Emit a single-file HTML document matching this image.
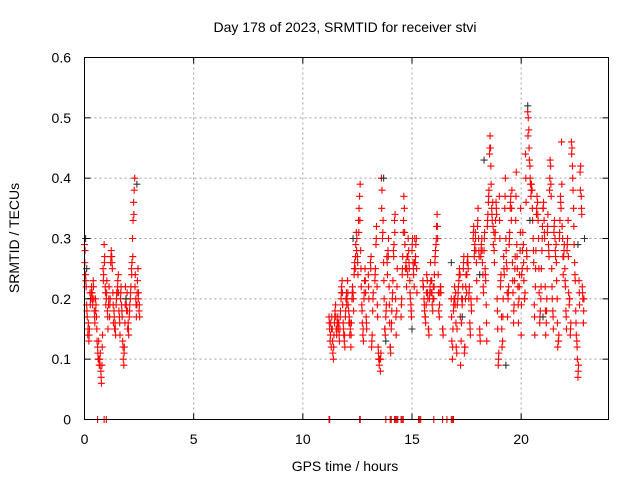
<!DOCTYPE html>
<html><head><meta charset="utf-8"><style>
html,body{margin:0;padding:0;background:#fff;}
svg{display:block;font-family:"Liberation Sans",sans-serif;}
</style></head><body>
<svg id="chart" width="640" height="480" viewBox="0 0 640 480" xmlns="http://www.w3.org/2000/svg">
<rect x="0" y="0" width="640" height="480" fill="#fff"/>
<text x="345" y="32" font-size="14" text-anchor="middle" fill="#000">Day 178 of 2023, SRMTID for receiver stvi</text>
<text x="345" y="471" font-size="14" text-anchor="middle" fill="#000">GPS time / hours</text>
<text x="19" y="238" font-size="14" text-anchor="middle" fill="#000" transform="rotate(-90 19 238)">SRMTID / TECUs</text>
<g id="grid"></g>
<g id="marks"></g>
<g id="axes"></g>
</svg>
<script>
const xTicks=[0,5,10,15,20];
const yTicks=[0,0.1,0.2,0.3,0.4,0.5,0.6];
const yTickLabels=["0","0.1","0.2","0.3","0.4","0.5","0.6"];
const hours=[0,0.05,0.1,0.15,0.2,0.25,0.3,0.35,0.4,0.45,0.5,0.55,0.6,0.65,0.7,0.75,0.8,0.85,0.9,0.95,1.0,1.05,1.1,1.15,1.2,1.25,1.3,1.35,1.4,1.45,1.5,1.55,1.6,1.65,1.7,1.75,1.8,1.85,1.9,1.95,2.0,2.05,2.1,2.15,2.2,2.25,2.3,2.35,2.4,2.45,2.5,
11.2,11.25,11.3,11.35,11.4,11.45,11.5,11.55,11.6,11.65,11.7,11.75,11.8,11.85,11.9,11.95,12.0,12.05,12.1,12.15,12.2,12.25,12.3,12.35,12.4,12.45,12.5,12.55,12.6,12.65,12.7,12.75,12.8,12.85,12.9,
13.0,13.1,13.15,13.2,13.3,13.35,13.4,13.45,13.5,13.55,13.6,13.65,13.7,13.75,13.8,13.85,13.9,13.95,14.0,14.05,14.1,14.15,14.2,14.25,14.3,
14.5,14.55,14.6,14.65,14.7,14.75,14.8,14.85,14.9,14.95,15.0,15.05,15.1,15.15,15.2,
15.5,15.55,15.6,15.65,15.7,15.75,15.8,15.85,15.9,15.95,16.0,16.05,16.1,16.15,16.2,16.25,16.3,16.4,
16.8,16.85,16.9,16.95,17.0,17.05,17.1,17.15,17.2,17.25,17.3,17.35,17.4,17.45,17.5,17.55,17.6,17.65,17.7,
17.8,17.85,17.9,17.95,18.0,18.05,18.1,18.15,18.2,18.25,18.3,18.35,18.4,18.45,18.5,18.55,18.6,18.65,18.7,18.75,18.8,18.85,18.9,18.95,
19.0,19.05,19.1,19.15,19.2,19.25,19.3,19.35,19.4,19.45,19.5,19.55,19.6,19.65,19.7,19.75,19.8,19.85,19.9,19.95,20.0,20.05,20.1,20.15,
20.2,20.25,20.3,20.35,20.4,20.45,20.5,20.55,20.6,20.65,20.7,20.75,20.8,20.85,20.9,20.95,21.0,21.05,21.1,21.15,21.2,21.25,21.3,21.35,21.4,21.45,
21.5,21.55,21.6,21.65,21.7,21.75,21.8,21.85,21.9,21.95,22.0,22.05,22.1,22.15,22.2,22.25,22.3,22.35,22.4,22.45,22.5,22.55,22.6,22.65,22.7,22.75,22.8,22.85];
const srmtidA=[0.29,0.24,0.19,0.14,0.13,0.21,0.2,0.21,0.23,0.18,0.2,0.17,0.12,0.13,0.1,0.08,0.09,0.25,0.29,0.22,0.2,0.18,0.19,0.17,0.26,0.27,0.21,0.18,0.16,0.19,0.21,0.24,0.17,0.2,0.19,0.13,0.09,0.16,0.2,0.21,0.16,0.17,0.2,0.25,0.3,0.36,0.4,0.2,0.19,0.25,0.18,
0.17,0.13,0.12,0.15,0.1,0.16,0.19,0.14,0.17,0.16,0.15,0.2,0.23,0.16,0.13,0.17,0.21,0.23,0.18,0.14,0.12,0.2,0.21,0.24,0.25,0.31,0.27,0.33,0.37,0.28,0.19,0.14,0.2,0.25,0.17,
0.24,0.26,0.12,0.18,0.23,0.29,0.22,0.12,0.09,0.08,0.4,0.3,0.26,0.15,0.17,0.27,0.28,0.22,0.12,0.15,0.2,0.28,0.33,0.2,0.18,
0.17,0.24,0.31,0.35,0.25,0.22,0.24,0.28,0.23,0.19,0.28,0.26,0.22,0.26,0.3,
0.23,0.2,0.17,0.19,0.23,0.15,0.2,0.26,0.23,0.18,0.2,0.26,0.29,0.34,0.24,0.17,0.22,0.15,
0.2,0.1,0.18,0.22,0.21,0.11,0.2,0.23,0.24,0.13,0.19,0.25,0.11,0.2,0.21,0.27,0.2,0.16,0.2,
0.3,0.27,0.31,0.26,0.32,0.3,0.15,0.27,0.3,0.24,0.28,0.25,0.19,0.32,0.36,0.44,0.45,0.35,0.36,0.31,0.3,0.36,0.2,0.09,
0.37,0.22,0.17,0.13,0.27,0.35,0.3,0.25,0.2,0.29,0.35,0.33,0.26,0.16,0.23,0.33,0.29,0.22,0.2,0.28,0.14,0.25,0.29,0.2,
0.44,0.28,0.51,0.48,0.42,0.37,0.38,0.3,0.19,0.22,0.34,0.36,0.3,0.16,0.2,0.28,0.35,0.33,0.22,0.16,0.31,0.29,0.38,0.42,0.25,0.18,
0.31,0.3,0.29,0.2,0.13,0.3,0.37,0.46,0.3,0.27,0.25,0.18,0.28,0.33,0.19,0.14,0.46,0.42,0.35,0.26,0.18,0.13,0.07,0.23,0.41,0.37,0.22,0.16];
const srmtidB=[0.28,0.22,0.17,0.16,0.15,0.2,0.22,0.19,0.2,0.16,0.19,0.13,0.1,0.09,0.11,0.06,0.14,0.24,0.27,0.19,0.23,0.15,0.22,0.2,0.28,0.25,0.16,0.15,0.14,0.21,0.23,0.18,0.14,0.22,0.17,0.1,0.12,0.22,0.18,0.15,0.14,0.19,0.22,0.26,0.33,0.38,0.24,0.17,0.23,0.21,0.17,
0.15,0.16,0.17,0.11,0.14,0.18,0.15,0.16,0.15,0.13,0.18,0.22,0.19,0.14,0.12,0.2,0.2,0.19,0.17,0.15,0.16,0.22,0.18,0.26,0.29,0.3,0.24,0.35,0.39,0.22,0.16,0.13,0.23,0.21,0.15,
0.2,0.27,0.14,0.21,0.25,0.32,0.17,0.1,0.1,0.11,0.38,0.33,0.2,0.14,0.19,0.24,0.3,0.16,0.11,0.18,0.23,0.29,0.34,0.14,0.25,
0.2,0.27,0.37,0.29,0.26,0.27,0.3,0.25,0.2,0.17,0.3,0.24,0.3,0.29,0.21,
0.22,0.18,0.16,0.24,0.2,0.14,0.22,0.21,0.19,0.22,0.24,0.28,0.32,0.3,0.18,0.21,0.21,0.14,
0.13,0.15,0.2,0.19,0.12,0.19,0.22,0.25,0.09,0.2,0.22,0.27,0.12,0.24,0.26,0.25,0.22,0.14,0.18,
0.32,0.29,0.28,0.2,0.35,0.27,0.13,0.29,0.26,0.21,0.31,0.23,0.13,0.34,0.38,0.47,0.39,0.33,0.29,0.26,0.33,0.34,0.15,0.11,
0.3,0.24,0.12,0.2,0.24,0.4,0.26,0.17,0.22,0.31,0.37,0.38,0.21,0.19,0.27,0.41,0.25,0.16,0.24,0.35,0.24,0.31,0.23,0.21,
0.36,0.25,0.5,0.43,0.39,0.39,0.33,0.26,0.14,0.28,0.37,0.33,0.21,0.18,0.25,0.32,0.36,0.3,0.14,0.2,0.34,0.27,0.43,0.37,0.2,0.15,
0.33,0.27,0.23,0.12,0.14,0.33,0.35,0.32,0.24,0.29,0.22,0.15,0.3,0.21,0.2,0.16,0.45,0.38,0.29,0.23,0.14,0.1,0.09,0.19,0.42,0.34,0.2,0.2];
const srmtidC=[0.26,0.23,0.18,0.15,0.14,0.19,0.21,0.2,0.22,0.17,0.18,0.15,0.11,0.1,0.09,0.07,0.12,0.23,0.26,0.21,0.21,0.17,0.2,0.19,0.27,0.26,0.19,0.17,0.15,0.2,0.22,0.21,0.16,0.21,0.18,0.12,0.11,0.19,0.19,0.18,0.15,0.18,0.21,0.24,0.27,0.34,0.22,0.19,0.21,0.2,0.19,
0.16,0.14,0.15,0.13,0.12,0.17,0.17,0.15,0.16,0.14,0.17,0.21,0.21,0.15,0.14,0.18,0.19,0.21,0.16,0.16,0.14,0.21,0.2,0.25,0.27,0.28,0.26,0.31,0.33,0.25,0.18,0.15,0.21,0.23,0.16,
0.22,0.25,0.13,0.2,0.24,0.3,0.19,0.11,0.1,0.1,0.35,0.31,0.23,0.15,0.18,0.26,0.27,0.19,0.12,0.16,0.21,0.27,0.31,0.17,0.22,
0.19,0.25,0.33,0.31,0.25,0.25,0.27,0.26,0.21,0.18,0.29,0.25,0.26,0.27,0.25,
0.22,0.19,0.17,0.21,0.21,0.15,0.21,0.23,0.21,0.2,0.22,0.27,0.3,0.32,0.21,0.19,0.22,0.15,
0.17,0.12,0.19,0.2,0.16,0.15,0.21,0.24,0.17,0.16,0.2,0.26,0.12,0.22,0.24,0.26,0.21,0.15,0.19,
0.31,0.28,0.3,0.23,0.33,0.28,0.14,0.28,0.28,0.22,0.3,0.24,0.16,0.33,0.37,0.45,0.42,0.34,0.32,0.28,0.31,0.35,0.18,0.1,
0.33,0.23,0.15,0.17,0.25,0.37,0.28,0.21,0.21,0.3,0.36,0.35,0.23,0.18,0.25,0.37,0.27,0.19,0.22,0.31,0.19,0.28,0.26,0.2,
0.4,0.27,0.47,0.45,0.4,0.38,0.35,0.28,0.17,0.25,0.35,0.34,0.25,0.17,0.22,0.3,0.35,0.31,0.18,0.18,0.32,0.28,0.4,0.39,0.22,0.17,
0.32,0.28,0.26,0.16,0.13,0.31,0.36,0.39,0.27,0.28,0.23,0.17,0.29,0.27,0.2,0.15,0.44,0.4,0.32,0.24,0.16,0.12,0.08,0.21,0.38,0.35,0.21,0.18];
const zeroHours=[0.6,0.9,1.0,11.2,11.23,12.6,12.63,13.8,14.0,14.05,14.2,14.25,14.3,14.35,14.5,14.55,14.6,15.3,15.35,15.4,16.0,16.4,16.6,16.8,16.85,16.9];
const grayHours=[0.05,2.4,13.7,13.8,19.3,18.3,20.4,22.6,22.9,12.3,15.0,16.8,18.1,21.0,20.3,0.1,1.9,17.3];
const grayVals=[0.3,0.39,0.4,0.13,0.09,0.43,0.33,0.29,0.3,0.3,0.15,0.26,0.24,0.17,0.52,0.25,0.2,0.17];

const L=84.5,R=608.5,T=57.5,B=419.5;
const xs=h=>L+h/24*(R-L);
const ys=v=>B-v/0.6*(B-T);
const NS="http://www.w3.org/2000/svg";
function mk(tag,attrs,parent){const e=document.createElementNS(NS,tag);for(const k in attrs)e.setAttribute(k,attrs[k]);parent.appendChild(e);return e;}
const grid=document.getElementById('grid'),marks=document.getElementById('marks'),axes=document.getElementById('axes');
xTicks.forEach(t=>{if(t>0){const g=mk('line',{x1:xs(t),x2:xs(t),y1:T,y2:B,stroke:'#a0a0a0','stroke-dasharray':'2,3','stroke-width':1},grid);

}
const tk=mk('line',{x1:xs(t),x2:xs(t),y1:B,y2:B-6,stroke:'#000'},axes);


const tk2=mk('line',{x1:xs(t),x2:xs(t),y1:T,y2:T+6,stroke:'#000'},axes);


const lb=mk('text',{x:xs(t),y:444,'font-size':14,'text-anchor':'middle',fill:'#000'},axes);lb.textContent=String(t);

});
yTicks.forEach((t,i)=>{if(t>0&&t<0.6){const g=mk('line',{x1:L,x2:R,y1:ys(t),y2:ys(t),stroke:'#a0a0a0','stroke-dasharray':'2,3','stroke-width':1},grid);

}
const tk=mk('line',{x1:L,x2:L+6,y1:ys(t),y2:ys(t),stroke:'#000'},axes);


const tk2=mk('line',{x1:R,x2:R-6,y1:ys(t),y2:ys(t),stroke:'#000'},axes);


const lb=mk('text',{x:71,y:ys(t)+5,'font-size':14,'text-anchor':'end',fill:'#000'},axes);lb.textContent=yTickLabels[i];

});
const fr=mk('rect',{x:L,y:T,width:R-L,height:B-T,fill:'none',stroke:'#000','stroke-width':1},axes);


function plus(h,v,col){const x=xs(h),y=ys(v);const p=mk('path',{d:`M${x-3.5},${y}H${x+3.5}M${x},${y-3.5}V${y+3.5}`,stroke:col,'stroke-width':1.1,fill:'none'},marks);return p;}
hours.forEach((h,i)=>{const a=plus(h,srmtidA[i],'#ff0000');


const b=plus(h+0.025,srmtidB[i],'#ff0000');


const c=plus(h+0.0125,srmtidC[i],'#ff0000');

});
zeroHours.forEach(h=>{const z=plus(h,0,'#ff0000');

});
grayHours.forEach((h,i)=>{const g=plus(h,grayVals[i],'#333333');

});
</script>
</body></html>
